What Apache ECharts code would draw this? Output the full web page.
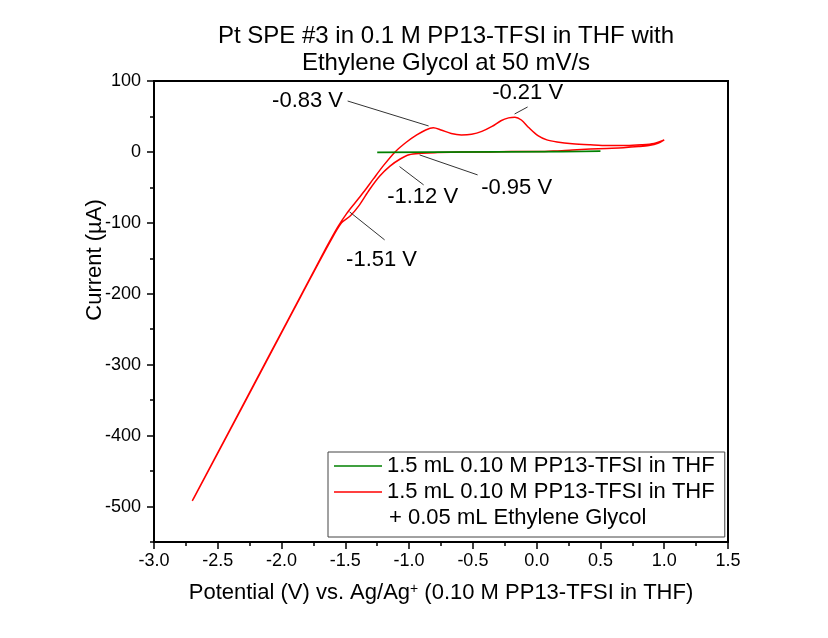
<!DOCTYPE html>
<html>
<head>
<meta charset="utf-8">
<script src="https://cdn.jsdelivr.net/npm/echarts@6/dist/echarts.min.js"></script>
<style>
  html, body { margin: 0; padding: 0; background: #fff; }
  #chart { width: 828px; height: 638px; }
</style>
</head>
<body>
<div id="chart"></div>
<script>
// red: with ethylene glycol (forward scan = upper branch, reverse = lower branch)
const redForwardV = [-2.70, -2.40, -2.10, -1.80, -1.65, -1.56, -1.49, -1.42, -1.35, -1.28, -1.20, -1.11, -1.02, -0.94, -0.87, -0.81, -0.75, -0.67, -0.59, -0.51, -0.43, -0.35, -0.28, -0.22, -0.17, -0.12, -0.06, 0.01, 0.08, 0.16, 0.28, 0.42, 0.56, 0.70, 0.82, 0.92, 1.00]
const redForwardI = [-492, -390, -288, -186, -135, -106, -87, -71, -55, -38, -19, 0, 14, 24, 31, 34, 31, 26, 24, 25, 29, 36, 44, 48, 49, 45, 34, 23, 17, 14, 11.5, 10, 9, 9, 10, 12, 17]
const redReverseV = [0.95, 0.88, 0.80, 0.68, 0.55, 0.42, 0.28, 0.15, 0.02, -0.20, -0.40, -0.60, -0.80, -0.90, -1.00, -1.07, -1.15, -1.23, -1.31, -1.39, -1.46, -1.53, -1.62, -1.90, -2.30, -2.69]
const redReverseI = [12, 9, 7.5, 6, 5, 4, 2.8, 1.4, 0.5, 0.5, 0, 0, -1, -2, -4, -10, -20, -34, -53, -75, -90, -100, -127, -221, -357, -489]

// green: electrolyte only
const greenV = [-1.25, -0.8, -0.3, 0.2, 0.5, 0.2, -0.3, -0.8, -1.25]
const greenI = [-0.3, 0, 0.3, 0.6, 1.0, 0.3, 0, -0.4, -0.8]

const yMajorTicks = [-500, -400, -300, -200, -100, 0, 100]
const yMinorTicks = [-550, -450, -350, -250, -150, -50, 50]

const seriesNames = ['1.5 mL 0.10 M PP13-TFSI in THF', '1.5 mL 0.10 M PP13-TFSI in THF ']
const legendExtra = '+ 0.05 mL Ethylene Glycol'

// peak annotations: label, label centre, leader start, leader end (data coords)
const annoText = ['-0.83 V', '-0.21 V', '-0.95 V', '-1.12 V', '-1.51 V']
const annoCenter = [[-1.796, 71.8], [-0.071, 83], [-0.157, -50.7], [-0.894, -63.4], [-1.216, -152]]
const annoFrom = [[-1.482, 71.8], [-0.071, 63.4], [-0.463, -32.4], [-0.886, -46.5], [-1.192, -124]]
const annoTo = [[-0.847, 36.6], [-0.173, 53.5], [-0.918, -4.2], [-1.075, -20.7], [-1.467, -84.5]]

const FONT = '"Liberation Sans", Arial, sans-serif'

const zip = (xs, ys) => xs.map((x, i) => [x, ys[i]])
const redData = zip(redForwardV, redForwardI).concat(zip(redReverseV, redReverseI))
const greenData = zip(greenV, greenI)

const chart = echarts.init(document.getElementById('chart'))

const option = {
  animation: false,
  backgroundColor: '#fff',
  textStyle: { fontFamily: FONT, color: '#000' },
  title: {
    text: 'Pt SPE #3 in 0.1 M PP13-TFSI in THF with\nEthylene Glycol at 50 mV/s',
    left: 441,
    top: 18,
    textAlign: 'center',
    textStyle: { fontFamily: FONT, fontSize: 24, fontWeight: 'normal', color: '#000', lineHeight: 27 }
  },
  grid: {
    left: 154, right: 100, top: 81, bottom: 96,
    show: true, borderColor: '#000', borderWidth: 2
  },
  legend: {
    orient: 'vertical',
    left: 328,
    top: 452,
    data: seriesNames,
    icon: 'rect',
    itemWidth: 48,
    itemHeight: 1.5,
    itemGap: 2,
    padding: [2, 4, 33, 6],
    borderColor: '#444',
    borderWidth: 1,
    textStyle: { fontFamily: FONT, fontSize: 22, color: '#000', lineHeight: 24 }
  },
  xAxis: {
    type: 'value',
    min: -3,
    max: 1.5,
    interval: 0.5,
    name: '{a|Potential (V) vs. Ag/Ag}{sup|+}{a| (0.10 M PP13-TFSI in THF)}',
    nameLocation: 'middle',
    nameGap: 40,
    nameTextStyle: {
      rich: {
        a: { fontFamily: FONT, fontSize: 22, color: '#000' },
        sup: { fontFamily: FONT, fontSize: 14, color: '#000', verticalAlign: 'top' }
      }
    },
    axisLine: { show: true, onZero: false, lineStyle: { color: '#000', width: 2 } },
    axisTick: { show: true, length: 7, lineStyle: { color: '#000', width: 1.5 } },
    minorTick: { show: true, splitNumber: 2, length: 4, lineStyle: { color: '#000', width: 1.5 } },
    axisLabel: {
      fontFamily: FONT, fontSize: 18, color: '#000', margin: 10,
      formatter: v => v.toFixed(1)
    },
    splitLine: { show: false }
  },
  yAxis: [
    {
      type: 'value',
      min: -550,
      max: 100,
      axisLine: { show: true, onZero: false, lineStyle: { color: '#000', width: 2 } },
      axisTick: { show: true, length: 7, customValues: yMajorTicks, lineStyle: { color: '#000', width: 1.5 } },
      axisLabel: { fontFamily: FONT, fontSize: 18, color: '#000', margin: 13, customValues: yMajorTicks },
      splitLine: { show: false }
    },
    {
      type: 'value',
      min: -550,
      max: 100,
      position: 'left',
      axisLine: { show: false, onZero: false },
      axisTick: { show: true, length: 4, customValues: yMinorTicks, lineStyle: { color: '#000', width: 1.5 } },
      axisLabel: { show: false },
      splitLine: { show: false }
    }
  ],
  series: [
    {
      name: seriesNames[1],
      type: 'line',
      data: redData,
      showSymbol: false,
      symbol: 'none',
      smooth: 0.3,
      color: '#ff0000',
      lineStyle: { color: '#ff0000', width: 1.5 },
      z: 2
    },
    {
      name: seriesNames[0],
      type: 'line',
      data: greenData,
      showSymbol: false,
      symbol: 'none',
      color: '#008000',
      lineStyle: { color: '#008000', width: 1.5 },
      z: 3
    }
  ]
}

chart.setOption(option)

const px = p => chart.convertToPixel({ gridIndex: 0 }, p)
const graphics = []
annoText.forEach((t, i) => {
  const a = px(annoFrom[i])
  const b = px(annoTo[i])
  const c = px(annoCenter[i])
  graphics.push({
    type: 'line',
    shape: { x1: a[0], y1: a[1], x2: b[0], y2: b[1] },
    style: { stroke: '#333', lineWidth: 1 },
    z: 10
  })
  graphics.push({
    type: 'text',
    x: c[0], y: c[1],
    style: { text: t, font: '22px ' + FONT, fill: '#000', textAlign: 'center', textVerticalAlign: 'middle' },
    z: 10
  })
})
graphics.push({
  type: 'text',
  x: 95, y: 260,
  rotation: Math.PI / 2,
  style: { text: 'Current (µA)', font: '22px ' + FONT, fill: '#000', textAlign: 'center', textVerticalAlign: 'middle' }
})
graphics.push({
  type: 'text',
  x: 389, y: 518,
  style: { text: legendExtra, font: '22px ' + FONT, fill: '#000', textAlign: 'left', textVerticalAlign: 'middle' },
  z: 10
})
chart.setOption({ graphic: graphics })
</script>
</body>
</html>
